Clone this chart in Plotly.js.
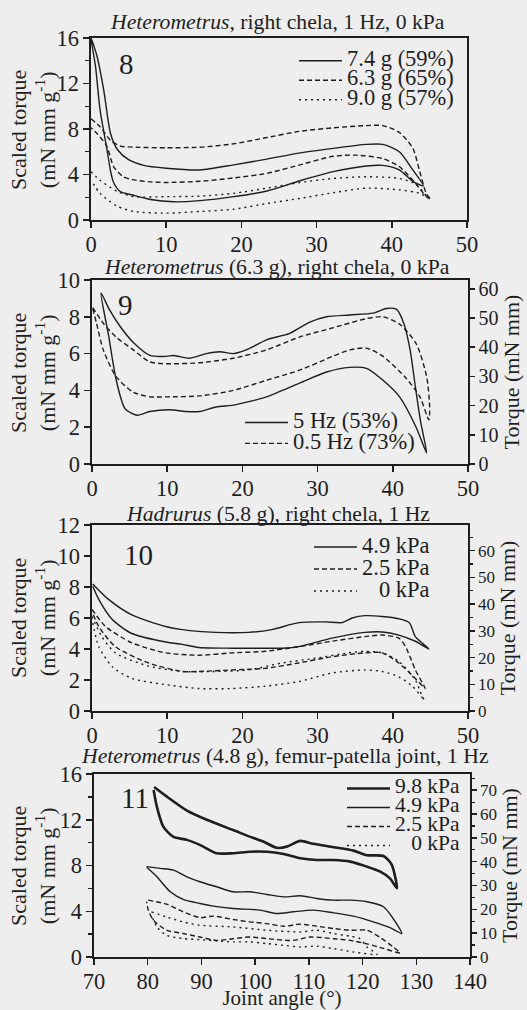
<!DOCTYPE html>
<html><head><meta charset="utf-8">
<script src="https://cdn.plot.ly/plotly-3.0.1.min.js"></script>
<style>html,body{margin:0;padding:0;background:#eeeeee;}#chart{width:527px;height:1010px;}</style>
</head><body><div id="chart"></div>
<script>
// ---------- DATA ----------
// Fig 8: Heterometrus, right chela, 1 Hz, 0 kPa
var f8_names = ['7.4 g (59%)', '6.3 g (65%)', '9.0 g (57%)'];
var f8_a_x = [0, 0.8, 1.7, 2.6, 3.5, 5, 7, 10, 14.5, 19, 23.4, 27.8, 32.2, 36.6, 38.8, 41, 42.8, 44.2, 42.8, 41, 38.8, 36.6, 32.2, 27.8, 23.4, 19, 14.5, 11, 7.9, 5.5, 3.9, 3.0, 2.6, 2.1, 1.2, 0.6, 0];
var f8_a_y = [16, 14.4, 11.4, 7.6, 6.2, 5.3, 4.8, 4.55, 4.4, 4.85, 5.35, 5.9, 6.3, 6.65, 6.65, 6.0, 4.4, 3.0, 3.4, 4.4, 4.8, 4.75, 4.25, 3.45, 2.55, 2.05, 1.7, 1.6, 1.8, 2.2, 2.5, 3.3, 4.3, 6.3, 9.7, 13.5, 16];
var f8_b_x = [0, 1.2, 2.6, 3.9, 6, 10, 14.5, 19, 23.4, 27.8, 32.2, 36.6, 38.8, 41, 42.8, 43.7, 44.6, 45.2, 44.6, 42.8, 41, 38.8, 35.3, 32.2, 27.8, 23.4, 19, 14.5, 10, 7.9, 5.5, 4.3, 3.0, 2.1, 0.8, 0];
var f8_b_y = [8.9, 8.2, 7.0, 6.5, 6.4, 6.35, 6.4, 6.7, 7.25, 7.8, 8.1, 8.3, 8.3, 7.7, 6.3, 4.3, 2.3, 1.8, 2.05, 3.5, 4.7, 5.4, 5.7, 5.6, 4.85, 4.1, 3.7, 3.4, 3.3, 3.35, 3.55, 3.8, 4.7, 6.5, 7.6, 8.1];
var f8_c_x = [0, 1.2, 3.5, 5.7, 10, 14.5, 19, 23.4, 27.8, 32.2, 36.6, 41, 43.3, 44.6, 43.7, 41, 36.6, 32.2, 27.8, 23.4, 19, 14.5, 10, 5.7, 3.5, 1.2, 0];
var f8_c_y = [4.25, 3.5, 2.5, 2.05, 2.05, 2.1, 2.35, 2.8, 3.3, 3.65, 3.8, 3.65, 3.1, 2.05, 2.35, 2.65, 2.8, 2.4, 1.9, 1.45, 0.95, 0.75, 0.6, 0.75, 1.2, 2.35, 3.5];

// Fig 9: Heterometrus (6.3 g), right chela, 0 kPa
var f9_mass = 6.3;
var f9_names = ['5 Hz (53%)', '0.5 Hz (73%)'];
var f9_a_x = [1.2, 2.3, 3.7, 5.5, 7.7, 9.9, 10.8, 13, 15.2, 17, 18.8, 20.5, 23.2, 26.3, 28.9, 31.2, 34.3, 37.4, 39.1, 40.5, 41.5, 42.3, 43.0, 43.7, 44.5, 43.1, 40.9, 38.7, 36.5, 34.3, 31.2, 27.6, 23.2, 21, 18.8, 16.5, 14.3, 12.5, 10.3, 7.7, 6, 4.4, 3.2, 2.2, 1.2];
var f9_a_y = [9.3, 8.4, 7.5, 6.6, 5.9, 5.85, 5.9, 5.75, 6.0, 6.1, 6.0, 6.2, 6.75, 7.1, 7.7, 8.0, 8.1, 8.2, 8.45, 8.4, 7.6, 6.2, 4.2, 2.3, 0.6, 2.0, 3.65, 4.55, 5.2, 5.25, 5.0, 4.4, 3.65, 3.4, 3.2, 3.1, 2.85, 2.85, 2.95, 2.85, 2.65, 3.0, 4.6, 7.0, 9.3];
var f9_b_x = [0.1, 1.5, 3.2, 5.5, 7.7, 9.9, 14.3, 18.8, 23.2, 27.6, 32, 36.5, 38.7, 40.9, 43.1, 44.5, 44.9, 44.8, 43.6, 41.8, 38.7, 36.5, 34.3, 32, 27.6, 23.2, 18.8, 14.3, 9.9, 7.7, 5.5, 3.2, 1.5, 0.6, 0.1];
var f9_b_y = [8.5, 7.65, 6.9, 6.2, 5.55, 5.45, 5.5, 5.75, 6.2, 6.9, 7.4, 7.9, 8.0, 7.6, 6.55, 4.75, 3.1, 2.4, 3.65, 4.65, 5.85, 6.3, 6.2, 5.85, 5.1, 4.55, 4.0, 3.7, 3.65, 3.65, 3.9, 4.75, 6.2, 7.65, 8.45];

// Fig 10: Hadrurus (5.8 g), right chela, 1 Hz
var f10_mass = 5.8;
var f10_names = ['4.9 kPa', '2.5 kPa', '\u00a0\u00a0\u00a00 kPa'];
var f10_a_x = [0.1, 2.2, 5.3, 9.8, 12, 16.4, 20.8, 23.9, 27.5, 31, 33.2, 34.6, 36.3, 38.6, 40.8, 42.2, 43, 44.8, 43, 40.8, 38.6, 36.3, 31.9, 27.5, 25.3, 23, 18.6, 14.2, 12, 9.8, 5.3, 2.7, 0.9, 0.1];
var f10_a_y = [8.2, 7.2, 6.2, 5.45, 5.25, 5.07, 5.07, 5.25, 5.7, 5.75, 5.7, 6.0, 6.15, 6.1, 5.95, 5.7, 4.8, 4.0, 4.5, 4.9, 5.1, 5.07, 4.7, 4.15, 4.05, 4.05, 4.05, 4.1, 4.3, 4.45, 5.0, 5.9, 7.2, 8.05];
var f10_b_x = [0, 1.8, 5.3, 9.8, 14.2, 18.6, 23, 27.5, 31.9, 36.3, 38.6, 40.8, 41.7, 43, 44.3, 43, 40.8, 38.6, 36.3, 31.9, 27.5, 23, 18.6, 14.2, 12, 7.5, 3.1, 0.9, 0.1];
var f10_b_y = [6.55, 5.45, 4.4, 3.75, 3.6, 3.75, 3.85, 4.15, 4.5, 4.8, 4.9, 4.7, 4.15, 2.65, 1.45, 2.1, 3.1, 3.75, 3.75, 3.5, 3.1, 2.75, 2.65, 2.55, 2.55, 3.1, 4.15, 5.45, 6.3];
var f10_c_x = [0, 1.3, 3.1, 7.5, 12, 16.4, 20.8, 25.3, 29.7, 34.1, 36.3, 38.6, 40.8, 43, 43.9, 44.2, 42.6, 40.8, 38.6, 36.3, 31.9, 27.5, 23, 18.6, 14.2, 9.8, 5.3, 2.7, 0.9, 0.1];
var f10_c_y = [6.1, 4.8, 3.75, 2.9, 2.55, 2.55, 2.65, 3.1, 3.4, 3.75, 3.85, 3.75, 3.2, 2.0, 0.95, 0.7, 1.6, 2.2, 2.55, 2.65, 2.45, 1.9, 1.6, 1.45, 1.45, 1.7, 2.1, 2.85, 4.15, 5.7];

// Fig 11: Heterometrus (4.8 g), femur-patella joint, 1 Hz
var f11_mass = 4.8;
var f11_names = ['9.8 kPa', '4.9 kPa', '2.5 kPa', '\u00a0\u00a0\u00a00 kPa'];
var f11_a_x = [81.2, 83.5, 87.3, 91, 95.9, 99.7, 101.5, 104, 105.9, 108.4, 110.8, 114.6, 118.3, 120.8, 123.9, 125.4, 126.4, 125.1, 123.3, 120.8, 117.7, 114.6, 111.5, 108.4, 105.3, 102.2, 99, 95.9, 92.8, 89.7, 87.3, 84.8, 82.9, 81.7, 81.1];
var f11_a_y = [14.86, 14.04, 12.8, 12.0, 11.1, 10.4, 10.1, 9.55, 9.65, 10.15, 9.9, 9.6, 9.3, 8.9, 8.83, 8.1, 6.0, 6.87, 7.46, 7.9, 8.34, 8.48, 8.48, 8.63, 9.0, 9.2, 9.2, 9.07, 9.07, 9.8, 10.24, 10.5, 11.4, 13.15, 14.6];
var f11_b_x = [79.8, 82.3, 84.8, 87.3, 89.7, 92.8, 95.9, 99, 102.2, 105.3, 108.4, 111.5, 114.6, 117.7, 120.8, 123.9, 125.7, 127.3, 125.1, 122, 118.3, 114.6, 110.8, 107.1, 104, 100.9, 95.9, 92.2, 89.7, 86.6, 84.2, 81.7, 79.8];
var f11_b_y = [7.9, 7.75, 7.6, 7.0, 6.58, 6.14, 5.7, 5.7, 5.47, 5.26, 5.35, 5.12, 4.97, 4.97, 4.83, 4.39, 3.36, 2.05, 2.57, 3.07, 3.57, 3.86, 4.1, 3.95, 3.8, 4.1, 4.24, 4.45, 4.68, 5.03, 5.7, 7.02, 7.84];
var f11_c_x = [80.1, 83.5, 86.6, 89.7, 92.2, 95.9, 99, 102.2, 105.3, 108.4, 111.5, 114.6, 117.7, 120.8, 123.3, 125.7, 127, 123.9, 120.8, 117.7, 114.6, 110.2, 107.1, 102.2, 99, 95.9, 92.8, 89.7, 86.6, 83.5, 81.1, 80.1, 79.8];
var f11_c_y = [4.97, 4.62, 3.95, 3.45, 3.57, 3.28, 3.07, 2.92, 2.69, 2.87, 2.69, 2.49, 2.34, 2.34, 1.7, 0.88, 0.35, 0.75, 1.15, 1.45, 1.6, 1.75, 1.45, 1.6, 1.75, 1.6, 1.45, 1.75, 2.05, 2.35, 3.2, 4.1, 4.85];
var f11_d_x = [80.7, 83.5, 86.6, 89.7, 95.9, 102.2, 108.4, 111.5, 114.6, 117.7, 119.5, 120.8, 122.7, 118.3, 114.6, 111.5, 108.4, 105.3, 102.2, 99, 95.9, 92.8, 89.7, 86.6, 83.5, 81.7, 80.7];
var f11_d_y = [3.95, 3.5, 3.07, 2.78, 2.63, 2.34, 2.19, 2.34, 2.05, 1.81, 1.61, 0.88, 0.23, 0.44, 0.73, 0.94, 0.88, 1.02, 1.17, 1.32, 1.32, 1.4, 1.52, 1.61, 1.9, 2.63, 3.66];

// ---------- STYLE ----------
var FONT = 'Liberation Serif';
var INK = '#1e1e1e';
var BG = '#eeeeee';
var DASH = '5px,3px';
var DOT = '2px,4px';
var W = 527, H = 1010;
function px(v) { return v / W; }
function py(v) { return 1 - v / H; }
function lg(t, fs) { return '<span style="font-size:' + (fs || 22.5) + 'px">' + t + '</span>'; }

function tr(x, y, name, xa, ya, legend, dash, width, fs) {
  return {
    type: 'scatter', mode: 'lines', x: x, y: y, name: lg(name, fs),
    xaxis: xa, yaxis: ya, legend: legend, hoverinfo: 'skip',
    line: {color: INK, width: width || 1.4, dash: dash, shape: 'spline', smoothing: 0.7}
  };
}
// empty carrier trace so the right-hand torque axis gets drawn
function carrier(xa, ya) {
  return {type: 'scatter', mode: 'lines', x: [], y: [], xaxis: xa, yaxis: ya, showlegend: false, hoverinfo: 'skip'};
}

var data = [
  tr(f8_a_x, f8_a_y, f8_names[0], 'x', 'y', 'legend', 'solid'),
  tr(f8_b_x, f8_b_y, f8_names[1], 'x', 'y', 'legend', DASH),
  tr(f8_c_x, f8_c_y, f8_names[2], 'x', 'y', 'legend', DOT),
  tr(f9_a_x, f9_a_y, f9_names[0], 'x2', 'y2', 'legend2', 'solid'),
  tr(f9_b_x, f9_b_y, f9_names[1], 'x2', 'y2', 'legend2', DASH),
  carrier('x2', 'y3'),
  tr(f10_a_x, f10_a_y, f10_names[0], 'x3', 'y4', 'legend3', 'solid'),
  tr(f10_b_x, f10_b_y, f10_names[1], 'x3', 'y4', 'legend3', DASH),
  tr(f10_c_x, f10_c_y, f10_names[2], 'x3', 'y4', 'legend3', DOT),
  carrier('x3', 'y5'),
  tr(f11_a_x, f11_a_y, f11_names[0], 'x4', 'y6', 'legend4', 'solid', 2.6, 21.5),
  tr(f11_b_x, f11_b_y, f11_names[1], 'x4', 'y6', 'legend4', 'solid', 1.4, 21.5),
  tr(f11_c_x, f11_c_y, f11_names[2], 'x4', 'y6', 'legend4', DASH, 1.4, 21.5),
  tr(f11_d_x, f11_d_y, f11_names[3], 'x4', 'y6', 'legend4', DOT, 1.4, 21.5),
  carrier('x4', 'y7')
];

var tickF = {family: FONT, size: 22.5, color: INK};
function xax(dom, anchor, range, showTitle) {
  var a = {
    domain: dom, anchor: anchor, range: range, dtick: 10, tick0: 0,
    showgrid: false, zeroline: false, showline: true, mirror: true,
    linecolor: INK, linewidth: 1.6, ticks: 'outside', ticklen: 6, tickwidth: 1.5, tickcolor: INK,
    tickfont: tickF, fixedrange: true, ticklabelstandoff: -3
  };
  if (showTitle) a.title = {text: 'Joint angle (\u00b0)', font: {family: FONT, size: 21, color: INK}, standoff: 7};
  return a;
}
function yax(dom, anchor, range, dtick, minor) {
  var a = {
    domain: dom, anchor: anchor, range: range, dtick: dtick, tick0: 0,
    showgrid: false, zeroline: false, showline: true, mirror: true,
    linecolor: INK, linewidth: 1.6, ticks: 'outside', ticklen: 6, tickwidth: 1.5, tickcolor: INK,
    tickfont: tickF, fixedrange: true
  };
  if (minor) a.minor = {dtick: minor, ticklen: 4, tickwidth: 1.3, tickcolor: INK, ticks: 'outside', showgrid: false};
  return a;
}
function yright(over, anchor, top, mass, fsize, minor) {
  var a = {
    overlaying: over, anchor: anchor, side: 'right', range: [0, top * mass], dtick: 10, tick0: 0,
    showgrid: false, zeroline: false, showline: true,
    linecolor: INK, linewidth: 1.6, ticks: 'outside', ticklen: 5, tickwidth: 1.5, tickcolor: INK,
    tickfont: {family: FONT, size: fsize, color: INK}, fixedrange: true,
    title: {text: 'Torque (mN mm)', font: {family: FONT, size: 22, color: INK}, standoff: 2}
  };
  if (minor) a.minor = {dtick: minor, ticklen: 3, tickwidth: 1.2, tickcolor: INK, ticks: 'outside', showgrid: false};
  return a;
}
function leg(left, top, fs) {
  return {
    x: px(left), y: py(top), xanchor: 'left', yanchor: 'top',
    bgcolor: 'rgba(0,0,0,0)', borderwidth: 0, itemwidth: 43,
    font: {family: FONT, size: fs, color: INK}, tracegroupgap: 0
  };
}

var P1 = {x: [px(91), px(467)], y: [py(220), py(38)]};
var P2 = {x: [px(92), px(468)], y: [py(464), py(280)]};
var P3 = {x: [px(92), px(468)], y: [py(711), py(525)]};
var P4 = {x: [px(94), px(470)], y: [py(957), py(774)]};

function ann(text, x, y, size, angle) {
  var a = {text: text, xref: 'paper', yref: 'paper', x: px(x), y: py(y), xanchor: 'center', yanchor: 'middle',
    showarrow: false, font: {family: FONT, size: size, color: INK}};
  if (angle) a.textangle = angle;
  return a;
}
var YTITLE = 'Scaled torque<br>(mN mm g<sup>-1</sup>)';

var layout = {
  width: W, height: H, margin: {l: 0, r: 0, t: 0, b: 0},
  paper_bgcolor: BG, plot_bgcolor: BG, showlegend: true,
  font: {family: FONT, color: INK},
  xaxis: xax(P1.x, 'y', [0, 50], false),
  yaxis: yax(P1.y, 'x', [0, 16], 4, 2),
  xaxis2: xax(P2.x, 'y2', [0, 50], false),
  yaxis2: yax(P2.y, 'x2', [0, 10], 2, null),
  yaxis3: yright('y2', 'x2', 10, f9_mass, 20, null),
  xaxis3: xax(P3.x, 'y4', [0, 50], false),
  yaxis4: yax(P3.y, 'x3', [0, 12], 2, null),
  yaxis5: yright('y4', 'x3', 12, f10_mass, 17, 5),
  xaxis4: xax(P4.x, 'y6', [70, 140], true),
  yaxis6: yax(P4.y, 'x4', [0, 16], 4, 2),
  yaxis7: yright('y6', 'x4', 16, f11_mass, 17, 5),
  legend: leg(294, 46, 12.7),
  legend2: leg(240, 407, 13.8),
  legend3: leg(309, 531, 14.6),
  legend4: leg(342, 774, 12.3),
  annotations: [
    ann('<i>Heterometrus</i>, right chela, 1 Hz, 0 kPa', 277, 22, 21.7),
    ann('<i>Heterometrus</i> (6.3 g), right chela, 0 kPa', 277, 267, 21.7),
    ann('<i>Hadrurus</i> (5.8 g), right chela, 1 Hz', 278, 514, 21.7),
    ann('<i>Heterometrus</i> (4.8 g), femur-patella joint, 1 Hz', 285, 756, 21.7),
    ann(YTITLE, 33, 130, 22, -90),
    ann(YTITLE, 33, 373, 22, -90),
    ann(YTITLE, 33, 618, 22, -90),
    ann(YTITLE, 33, 866, 22, -90),
    ann('8', 126, 64, 29),
    ann('9', 125, 305, 29),
    ann('10', 138, 555, 29),
    ann('11', 135, 798, 29)
  ]
};

Plotly.newPlot('chart', data, layout, {displayModeBar: false, staticPlot: true});
</script></body></html>
